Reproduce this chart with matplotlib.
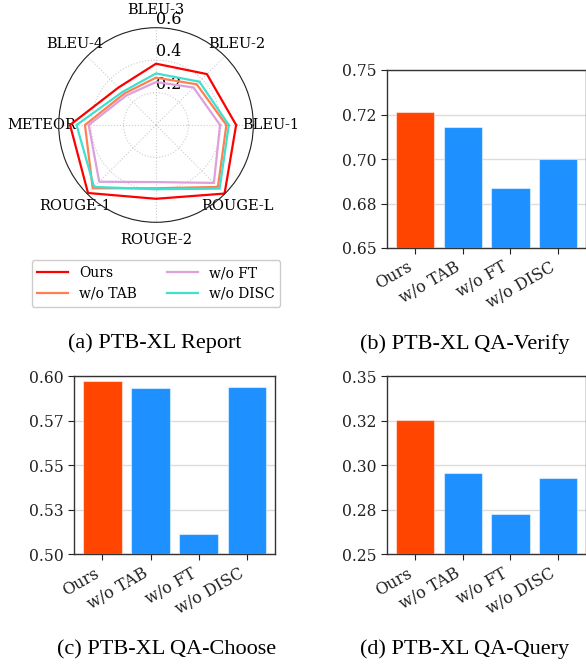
import numpy as np
import matplotlib
matplotlib.use("Agg")
import matplotlib.pyplot as plt

plt.rcParams["font.family"] = "DejaVu Serif"

W, H = 586, 664

# ---- data ----
radar_labels = ["BLEU-1", "BLEU-2", "BLEU-3", "BLEU-4",
                "METEOR", "ROUGE-1", "ROUGE-2", "ROUGE-L"]
ours = [0.494, 0.444, 0.378, 0.327, 0.530, 0.593, 0.455, 0.598]
wo_tab = [0.434, 0.355, 0.292, 0.275, 0.438, 0.552, 0.390, 0.540]
wo_ft = [0.395, 0.327, 0.265, 0.258, 0.415, 0.495, 0.352, 0.505]
wo_disc = [0.449, 0.378, 0.318, 0.290, 0.490, 0.540, 0.396, 0.555]

variants = ["Ours", "w/o TAB", "w/o FT", "w/o DISC"]
verify_vals = [0.7266, 0.7180, 0.6837, 0.7002]
choose_vals = [0.5972, 0.5936, 0.5114, 0.5942]
query_vals = [0.3255, 0.2955, 0.2728, 0.2929]

verify_ticks = ["0.65", "0.68", "0.70", "0.72", "0.75"]
choose_ticks = ["0.50", "0.53", "0.55", "0.57", "0.60"]
query_ticks = ["0.25", "0.28", "0.30", "0.32", "0.35"]

RADAR_COLORS = ["red", "coral", "plum", "turquoise"]
OURS_COLOR = "#FF4500"
OTHER_COLOR = "#1E90FF"


def px_axes(fig, left, top, width, height, **kw):
    return fig.add_axes([left / W, 1 - (top + height) / H, width / W, height / H], **kw)


def bar_panel(ax, vals, lo, hi, ticklabels):
    x = np.arange(len(variants))
    colors = [OURS_COLOR] + [OTHER_COLOR] * (len(variants) - 1)
    ax.bar(x, vals, width=0.8, color=colors,
           edgecolor=(1, 1, 1, 0.5), linewidth=0.8, zorder=3)
    ax.set_ylim(lo, hi)
    ax.set_yticks(np.linspace(lo, hi, 5))
    ax.set_yticklabels(ticklabels, fontsize=11.2)
    ax.set_xticks(x)
    ax.set_xticklabels(variants, rotation=30, ha="right", fontsize=11.5)
    ax.yaxis.grid(True, color="#dcdcdc", linewidth=1.0, zorder=0)
    ax.set_axisbelow(True)
    for s in ax.spines.values():
        s.set_color("#333333")
        s.set_linewidth(1.0)
    ax.tick_params(colors="#222222", length=4, width=0.8)


fig = plt.figure(figsize=(W / 100, H / 100), dpi=100)

# ---- (a) radar ----
R = 97.3
axr = px_axes(fig, 156 - R, 125 - R, 2 * R, 2 * R, projection="polar")
angles = np.linspace(0, 2 * np.pi, len(radar_labels), endpoint=False)
closed = np.concatenate([angles, angles[:1]])
lines = []
for name, vals, c in zip(variants, [ours, wo_tab, wo_ft, wo_disc], RADAR_COLORS):
    v = list(vals) + [vals[0]]
    ln, = axr.plot(closed, v, color=c, linewidth=1.6, label=name)
    lines.append(ln)
axr.set_ylim(0, 0.6)
axr.set_yticks([0.2, 0.4, 0.6])
axr.set_yticklabels(["0.2", "0.4", "0.6"], fontsize=11.5)
axr.set_rlabel_position(90)
axr.set_xticks(angles)
axr.set_xticklabels(radar_labels, fontsize=10.5)
axr.tick_params(axis="x", pad=2)
axr.grid(True, color="#cccccc", linestyle=":", linewidth=0.8)
axr.spines["polar"].set_color("#222222")
axr.spines["polar"].set_linewidth(0.8)

fig.legend(lines, variants, ncol=2, loc="center",
           bbox_to_anchor=(156 / W, 1 - 283.5 / H), fontsize=10,
           handlelength=2.2, columnspacing=2.2, framealpha=1,
           edgecolor="#cccccc")

# ---- bar panels ----
axb = px_axes(fig, 386.7, 70, 199.7, 178)
bar_panel(axb, verify_vals, 0.65, 0.75, verify_ticks)

axc = px_axes(fig, 74, 376.3, 201.3, 178)
bar_panel(axc, choose_vals, 0.50, 0.60, choose_ticks)

axd = px_axes(fig, 386.7, 376.3, 199.7, 178)
bar_panel(axd, query_vals, 0.25, 0.35, query_ticks)

# ---- captions ----
cap = dict(ha="center", va="center", fontsize=16, family="Liberation Serif")
fig.text(155 / W, 1 - 343 / H, "(a) PTB-XL Report", **cap)
fig.text(465 / W, 1 - 344.5 / H, "(b) PTB-XL QA-Verify", **cap)
fig.text(166.7 / W, 1 - 649.5 / H, "(c) PTB-XL QA-Choose", **cap)
fig.text(465 / W, 1 - 649.5 / H, "(d) PTB-XL QA-Query", **cap)

fig.savefig("out.png", dpi=100, facecolor="white")
